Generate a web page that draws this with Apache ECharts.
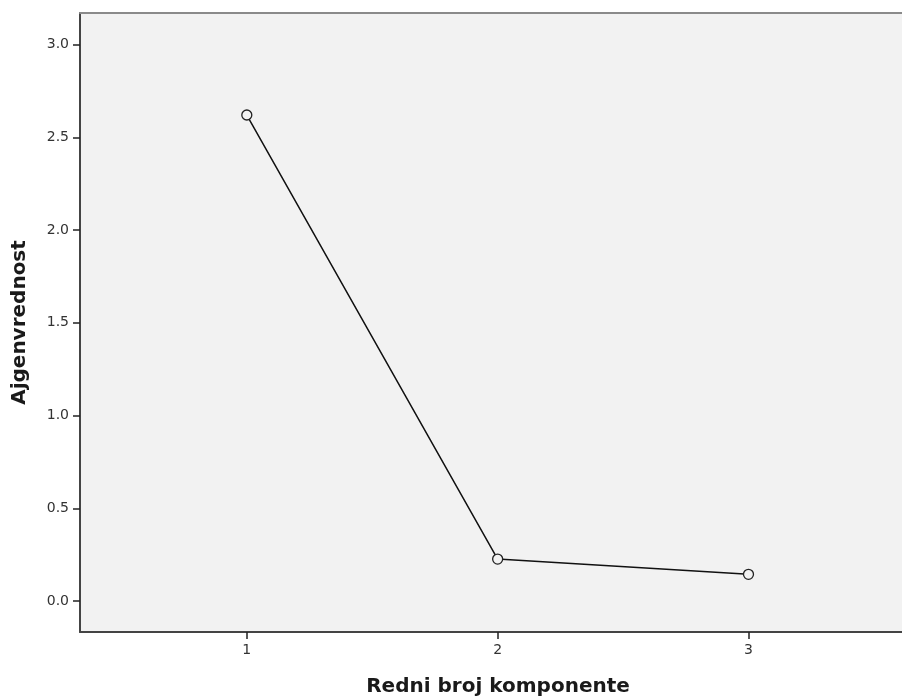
<!DOCTYPE html>
<html>
<head>
<meta charset="utf-8">
<script src="https://cdn.jsdelivr.net/npm/echarts@6/dist/echarts.min.js"></script>
<style>
  html, body { margin: 0; padding: 0; background: #ffffff; overflow: hidden; }
  #chart { width: 902px; height: 699px; }
</style>
</head>
<body>
<div id="chart"></div>
<script>
// Scree plot: eigenvalue per component
const components = [1, 2, 3];
const eigenvalues = [2.62, 0.226, 0.144];
const yTicks = [0.0, 0.5, 1.0, 1.5, 2.0, 2.5, 3.0];
const xTicks = [1, 2, 3];

const FONT = 'DejaVu Sans';
const PLOT_BG = '#f2f2f2';
// the panel is cut off at the right edge of the canvas
const X_MIN = 0.335, X_MAX = 3.612;

const chart = echarts.init(document.getElementById('chart'));
chart.setOption({
  animation: false,
  grid: {
    left: 80, top: 13, right: 0, bottom: 67,
    outerBoundsMode: 'none',
    show: true, backgroundColor: PLOT_BG, borderWidth: 0
  },
  xAxis: [{
    type: 'value',
    min: X_MIN, max: X_MAX,
    name: 'Redni broj komponente',
    nameLocation: 'middle',
    nameGap: 45,
    nameTextStyle: {
      fontFamily: FONT, fontSize: 20, fontWeight: 'bold', color: '#1a1a1a',
      padding: [0, 0, 0, 14]
    },
    axisLine: { show: true, onZero: false, lineStyle: { color: '#444', width: 2 } },
    axisTick: { show: true, length: 7, inside: false, customValues: xTicks, lineStyle: { color: '#222', width: 1.5 } },
    axisLabel: { customValues: xTicks, fontFamily: FONT, fontSize: 14, color: '#333', margin: 11 },
    splitLine: { show: false }
  }, {
    type: 'value',
    position: 'top',
    min: X_MIN, max: X_MAX,
    axisLine: { show: true, onZero: false, lineStyle: { color: '#8a8a8a', width: 2 } },
    axisTick: { show: false },
    axisLabel: { show: false },
    splitLine: { show: false }
  }],
  yAxis: {
    type: 'value',
    min: -0.167, max: 3.17,
    name: 'Ajgenvrednost',
    nameLocation: 'middle',
    nameGap: 50,
    nameRotate: 90,
    nameTextStyle: { fontFamily: FONT, fontSize: 20, fontWeight: 'bold', color: '#1a1a1a' },
    axisLine: { show: true, onZero: false, lineStyle: { color: '#444', width: 2 } },
    axisTick: { show: true, length: 7, inside: false, customValues: yTicks, lineStyle: { color: '#222', width: 1.5 } },
    axisLabel: {
      customValues: yTicks, fontFamily: FONT, fontSize: 14, color: '#333', margin: 11,
      formatter: v => v.toFixed(1)
    },
    splitLine: { show: false }
  },
  series: [{
    type: 'line',
    data: components.map((c, i) => [c, eigenvalues[i]]),
    symbol: 'circle',
    symbolSize: 10,
    showAllSymbol: true,
    lineStyle: { color: '#111', width: 1.5 },
    itemStyle: { color: PLOT_BG, borderColor: '#222', borderWidth: 1.3 },
    z: 3
  }]
});
</script>
</body>
</html>
